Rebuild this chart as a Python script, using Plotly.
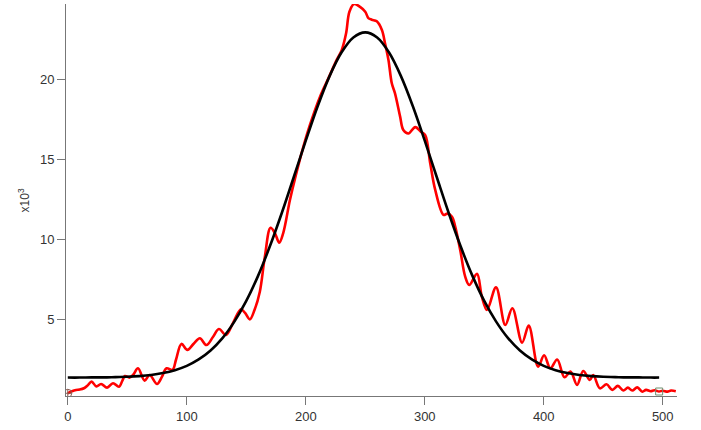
import plotly.graph_objects as go

# Measured signal (values in units of 10^3)
red_x = [0, 3, 7, 10, 14, 17, 20, 24, 28, 33, 38, 43, 46, 48, 52, 55, 59, 64.6, 68.8, 75,
         79, 83, 88, 91, 95.5, 100.5, 106, 111, 116.5, 122, 127, 133, 139, 145.5, 149, 153,
         157, 161.4, 165.6, 170.4, 174, 177.7, 181, 186.7, 191, 198, 203.5, 212, 219, 226,
         230.2, 233.9, 236.7, 240.6, 245.6, 250, 252.6, 255.5, 259.7, 264, 266.7, 269.5,
         272.3, 275, 279.3, 282, 286.3, 292, 297, 300.4, 304.6, 308.8, 315.8, 319, 322.9,
         325.6, 329.8, 334, 337.4, 343.9, 348, 352.3, 359.9, 367.7, 373.6, 381.8, 387.4,
         395.3, 400.3, 405.6, 411.3, 417.4, 422.5, 428, 433.2, 438.7, 441.6, 447.2, 452.8,
         457.6, 462.3, 466.9, 470.7, 474.4, 478.6, 482.9, 486, 489.9, 493, 496.9, 500,
         503.9, 507, 511]
red_y = [0.39, 0.5, 0.6, 0.62, 0.72, 0.9, 1.12, 0.82, 0.97, 0.74, 1.02, 0.8, 1.2, 1.47, 1.37,
         1.55, 1.95, 1.18, 1.53, 0.97, 1.4, 1.95, 1.85, 2.5, 3.47, 3.1, 3.5, 3.82, 3.4, 3.9,
         4.4, 4.03, 4.8, 5.63, 5.4, 5.0, 5.6, 6.73, 8.9, 10.72, 10.4, 9.79, 10.37, 12.45, 13.8,
         15.78, 17.13, 18.9, 20.04, 21.19, 21.8, 22.85, 24.2, 24.68, 24.5, 24.2, 23.8, 23.7,
         23.6, 23.06, 22.2, 21.19, 19.73, 19.1, 17.65, 16.82, 16.6, 17.0, 16.7, 16.5, 14.74,
         13.08, 11.52, 11.6, 11.41, 10.79, 9.33, 7.67, 7.15, 7.84, 6.42, 5.59, 7.0, 4.65, 5.7,
         3.55, 4.61, 2.05, 2.76, 1.95, 2.5, 1.39, 1.74, 0.91, 1.78, 1.22, 1.53, 0.7, 0.95,
         0.6, 0.85, 0.56, 0.74, 0.56, 0.76, 0.49, 0.6, 0.52, 0.58, 0.5, 0.55, 0.49, 0.56, 0.52]

# Gaussian fit curve
fit_x = [0, 10, 20, 30, 40, 50, 60, 70, 80, 90, 100, 110, 120, 130, 140, 150, 160, 170,
         180, 190, 200, 210, 220, 230, 240, 250, 260, 270, 280, 290, 300, 310, 320, 330,
         340, 350, 360, 370, 380, 390, 400, 410, 420, 430, 440, 450, 460, 470, 480, 490, 497]
fit_y = [1.37, 1.37, 1.38, 1.38, 1.40, 1.42, 1.46, 1.53, 1.65, 1.83, 2.10, 2.50, 3.06,
         3.83, 4.86, 6.15, 7.73, 9.59, 11.67, 13.90, 16.15, 18.30, 20.18, 21.65, 22.59,
         22.91, 22.59, 21.65, 20.18, 18.30, 16.15, 13.90, 11.67, 9.59, 7.73, 6.15, 4.86,
         3.83, 3.06, 2.50, 2.10, 1.83, 1.65, 1.53, 1.46, 1.42, 1.40, 1.38, 1.38, 1.37, 1.37]

# Cursor positions
cursor_a = (0, 0.39)
cursor_b = (497, 0.5)

x_ticks = [0, 100, 200, 300, 400, 500]
y_ticks = [5, 10, 15, 20]

fig = go.Figure()
fig.add_trace(go.Scatter(x=red_x, y=red_y, mode="lines",
                         line=dict(color="#ff0000", width=2.6, shape="spline", smoothing=1.0),
                         showlegend=False, hoverinfo="skip"))
fig.add_trace(go.Scatter(x=fit_x, y=fit_y, mode="lines",
                         line=dict(color="#000000", width=2.6, shape="spline"),
                         showlegend=False, hoverinfo="skip"))
fig.add_trace(go.Scatter(x=[cursor_a[0]], y=[cursor_a[1]], mode="markers",
                         marker=dict(symbol="circle-cross-open", size=8, color="#8a5a50", line=dict(width=1)),
                         showlegend=False, hoverinfo="skip"))
fig.add_trace(go.Scatter(x=[cursor_b[0]], y=[cursor_b[1]], mode="markers",
                         marker=dict(symbol="square-open", size=7, color="#6f8f6f", line=dict(width=1)),
                         showlegend=False, hoverinfo="skip"))

font_family = "Liberation Sans, Arial, sans-serif"
fig.update_layout(
    width=701, height=430,
    margin=dict(l=66, r=24, t=4, b=34),
    paper_bgcolor="white", plot_bgcolor="white",
    font=dict(family=font_family, size=13, color="#333333"),
    xaxis=dict(range=[-1.5, 512], tickvals=x_ticks, ticks="outside", ticklen=8, tickcolor="#777777",
               showline=True, linecolor="#777777", linewidth=1, showgrid=False, zeroline=False,
               automargin=False, tickfont=dict(size=13, color="#333333")),
    yaxis=dict(range=[0.22, 24.68], tickvals=y_ticks, ticks="outside", ticklen=8, tickcolor="#777777",
               showline=True, linecolor="#777777", linewidth=1, showgrid=False, zeroline=False,
               automargin=False, tickfont=dict(size=13, color="#333333")),
    annotations=[dict(text="x10<sup>3</sup>", xref="paper", yref="paper", x=-0.068, y=0.5,
                      xanchor="center", yanchor="middle", textangle=-90, showarrow=False,
                      font=dict(size=12, color="#333333"))],
)

fig.write_html("out.html", config={"displayModeBar": False},
               post_script="document.body.style.margin='0';document.body.style.padding='0';")
